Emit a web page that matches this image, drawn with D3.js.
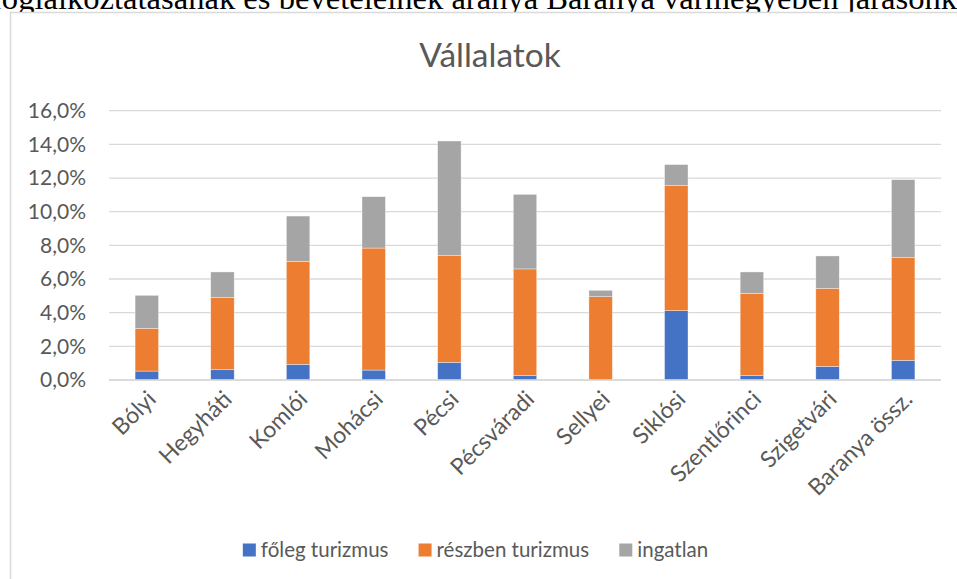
<!DOCTYPE html>
<html>
<head>
<meta charset="utf-8">
<script src="https://cdnjs.cloudflare.com/ajax/libs/d3/7.8.5/d3.min.js"></script>
<style>
  body { margin: 0; background: #fff; }
  svg { display: block; }
</style>
</head>
<body>
<div id="chart"></div>
<script>
// data (percent)
const jarasok = ["Bólyi", "Hegyháti", "Komlói", "Mohácsi", "Pécsi", "Pécsváradi", "Sellyei", "Siklósi", "Szentlőrinci", "Szigetvári", "Baranya össz."];
const folegTurizmus = [0.53, 0.61, 0.93, 0.59, 1.05, 0.26, 0.0, 4.12, 0.26, 0.81, 1.17];
const reszbenTurizmus = [2.54, 4.30, 6.12, 7.25, 6.34, 6.34, 4.95, 7.43, 4.89, 4.64, 6.10];
const ingatlan = [1.96, 1.51, 2.69, 3.05, 6.81, 4.43, 0.38, 1.25, 1.27, 1.92, 4.63];
const seriesNames = ["főleg turizmus", "részben turizmus", "ingatlan"];
const yTicks = [0, 2, 4, 6, 8, 10, 12, 14, 16];

const colors = ["#4472C4", "#ED7D31", "#A5A5A5"];
const width = 957, height = 579;
const font = "Lato, 'Open Sans', sans-serif";
const textColor = "#595959";

const svg = d3.select("#chart").append("svg")
  .attr("width", width).attr("height", height);

// caption line above the chart (cut by the page edge)
svg.append("text")
  .attr("x", -9).attr("y", 9)
  .style("font-family", "'Liberation Serif', 'Times New Roman', serif")
  .style("font-size", "32.6px")
  .attr("fill", "#000")
  .text("foglalkoztatásának és bevételeinek aránya Baranya vármegyében járásonként");

// chart area border
svg.append("rect")
  .attr("x", 10.5).attr("y", 12.5)
  .attr("width", 980).attr("height", 600)
  .attr("fill", "#fff")
  .attr("stroke", "#d9d9d9").attr("stroke-width", 1.5);

svg.append("text")
  .attr("x", 490).attr("y", 67)
  .attr("text-anchor", "middle")
  .style("font-family", font).style("font-size", "33.5px")
  .attr("fill", textColor)
  .text("Vállalatok");

const margin = { left: 109, right: 16, top: 110.7, bottom: 199 };

const xScale = d3.scaleBand()
  .domain(jarasok)
  .range([margin.left, width - margin.right])
  .paddingInner(0.69).paddingOuter(0.345);

const yScale = d3.scaleLinear()
  .domain([0, 16])
  .range([380, margin.top]);

const fmt = v => d3.format(".1f")(v).replace(".", ",") + "%";

// gridlines
svg.append("g").selectAll("line")
  .data(yTicks).enter().append("line")
  .attr("x1", margin.left).attr("x2", width - margin.right)
  .attr("y1", d => yScale(d)).attr("y2", d => yScale(d))
  .attr("stroke", "#d9d9d9").attr("stroke-width", 1.3);

// y axis labels
const yAxis = svg.append("g")
  .attr("transform", `translate(${margin.left}, 0)`)
  .call(d3.axisLeft(yScale).tickValues(yTicks).tickFormat(fmt).tickSize(0).tickPadding(23));
yAxis.select(".domain").remove();
yAxis.selectAll("text")
  .style("font-family", font).style("font-size", "21px")
  .attr("fill", textColor);

// stacked bars
const rows = jarasok.map((j, i) => ({ jaras: j, s0: folegTurizmus[i], s1: reszbenTurizmus[i], s2: ingatlan[i] }));
const stack = d3.stack().keys(["s0", "s1", "s2"]);
const stacked = stack(rows);

svg.append("g").selectAll("g")
  .data(stacked).enter().append("g")
  .attr("fill", (d, i) => colors[i])
  .selectAll("rect")
  .data(d => d).enter().append("rect")
  .attr("x", d => xScale(d.data.jaras))
  .attr("width", xScale.bandwidth())
  .attr("y", d => yScale(d[1]))
  .attr("height", d => yScale(d[0]) - yScale(d[1]))
  .attr("stroke", "#fff").attr("stroke-width", 0.6).attr("stroke-opacity", 0.6);

// baseline
svg.append("line")
  .attr("x1", margin.left).attr("x2", width - margin.right)
  .attr("y1", yScale(0)).attr("y2", yScale(0))
  .attr("stroke", "#d9d9d9").attr("stroke-width", 1.3);

// x labels, rotated
svg.append("g").selectAll("text")
  .data(jarasok).enter().append("text")
  .attr("transform", d => `translate(${xScale(d) + xScale.bandwidth() / 2 + 5}, 395) rotate(-45)`)
  .attr("text-anchor", "end")
  .attr("dy", "0.35em")
  .style("font-family", font).style("font-size", "23px")
  .attr("fill", textColor)
  .text(d => d);

// legend
const legend = svg.append("g").attr("transform", "translate(0, 550)");
const items = legend.selectAll("g").data(seriesNames).enter().append("g");
items.append("rect")
  .attr("width", 13).attr("height", 13).attr("y", -6.5)
  .attr("fill", (d, i) => colors[i]);
items.append("text")
  .attr("x", 18).attr("dy", "0.35em")
  .style("font-family", font).style("font-size", "20.5px")
  .attr("fill", textColor)
  .text(d => d);

let widths = [];
items.each(function () { widths.push(this.getBBox().width); });
const gap = 30;
const total = d3.sum(widths) + gap * (widths.length - 1);
let cursor = 475.5 - total / 2;
items.attr("transform", (d, i) => {
  const t = `translate(${cursor}, 0)`;
  cursor += widths[i] + gap;
  return t;
});
</script>
</body>
</html>
